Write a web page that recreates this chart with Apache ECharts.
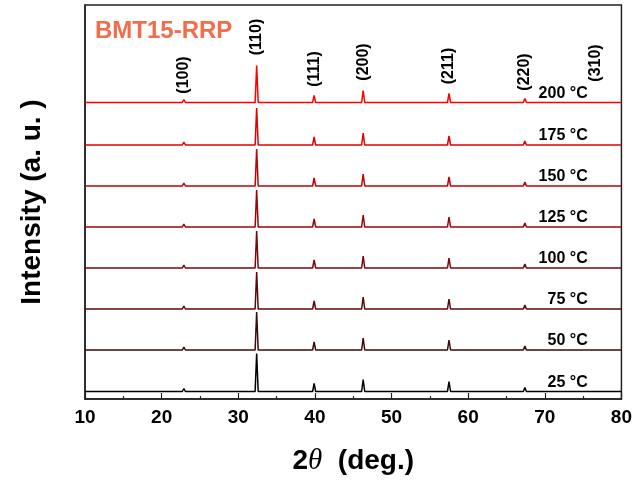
<!DOCTYPE html>
<html>
<head>
<meta charset="utf-8">
<script src="https://cdn.jsdelivr.net/npm/echarts@6/dist/echarts.min.js"></script>
<style>html,body{margin:0;padding:0;background:#fff}#c{width:635px;height:486px}</style>
</head>
<body>
<div id="c"></div>
<script>
// 2θ sample positions (deg.)
const twoTheta = [10, 22.7, 22.9, 23.1, 32.2, 32.4, 32.6, 39.7, 39.9, 40.1, 46.1, 46.3, 46.5, 57.3, 57.5, 57.7, 67.2, 67.4, 67.6, 76.4, 76.6, 76.8, 80];
// temperatures
const temperatures = ['25 °C', '50 °C', '75 °C', '100 °C', '125 °C', '150 °C', '175 °C', '200 °C'];
// vertical offsets of each pattern (a.u.)
const offsets = [7.5, 49, 90, 131, 172, 213, 254, 296.5];
// intensities (a.u.) above each baseline
const I25  = [0,0,3,0,0,38,0,0,8,0,0,12,0,0,10,0,0,4,0,0,2,0,0];
const I50  = [0,0,3,0,0,38,0,0,8,0,0,12,0,0,10,0,0,4,0,0,2,0,0];
const I75  = [0,0,3,0,0,37,0,0,8,0,0,12,0,0,10,0,0,4,0,0,2,0,0];
const I100 = [0,0,3,0,0,37,0,0,8,0,0,12,0,0,10,0,0,4,0,0,2,0,0];
const I125 = [0,0,3,0,0,37,0,0,8,0,0,12,0,0,10,0,0,4,0,0,2,0,0];
const I150 = [0,0,3,0,0,37,0,0,8,0,0,12,0,0,9,0,0,4,0,0,2,0,0];
const I175 = [0,0,3,0,0,37,0,0,8,0,0,12,0,0,9,0,0,4,0,0,2,0,0];
const I200 = [0,0,3,0,0,37,0,0,7,0,0,12,0,0,9,0,0,4,0,0,2,0,0];
const intensities = [I25, I50, I75, I100, I125, I150, I175, I200];
const colors = ['#000000', '#3a0c0c', '#5a0a0a', '#7a0808', '#980606', '#ba0404', '#de0202', '#ff0000'];
// peak labels
const hkl = ['(100)', '(110)', '(111)', '(200)', '(211)', '(220)', '(310)'];
const hklPos = [22.9, 32.4, 39.9, 46.3, 57.5, 67.4, 76.6];
const hklY = [324, 362, 330, 337, 333, 327, 336];
const tempLabelX = 75.6;
const tempLabelDy = 9;

const series = [];
intensities.forEach((arr, i) => {
  series.push({
    type: 'line', showSymbol: false, silent: true, animation: false,
    lineStyle: { color: colors[i], width: 1.5 },
    data: twoTheta.map((x, k) => [x, arr[k] + offsets[i]])
  });
});
series.push({
  type: 'scatter', symbolSize: 0, silent: true, animation: false,
  itemStyle: { opacity: 1 },
  data: hkl.map((t, i) => ({ value: [hklPos[i], hklY[i]], name: t })),
  label: { show: true, position: [0, 0], align: 'center', verticalAlign: 'middle', rotate: 90, formatter: p => p.name,
    fontFamily: 'Liberation Sans', fontWeight: 'bold', fontSize: 16, color: '#000', textBorderWidth: 0 }
});
series.push({
  type: 'scatter', symbolSize: 0, silent: true, animation: false,
  itemStyle: { opacity: 1 },
  data: temperatures.map((t, i) => ({ value: [tempLabelX, offsets[i] + tempLabelDy], name: t })),
  label: { show: true, position: 'left', distance: 0, formatter: p => p.name,
    fontFamily: 'Liberation Sans', fontWeight: 'bold', fontSize: 16, color: '#000' }
});

const chart = echarts.init(document.getElementById('c'));
chart.setOption({
  animation: false,
  title: { text: 'BMT15-RRP', left: 90, top: 14,
    textStyle: { color: '#f26d4b', fontSize: 24, fontWeight: 'bold', fontFamily: 'Liberation Sans' } },
  grid: { left: 85, right: 13, top: 5, bottom: 87, show: true, borderColor: '#222', borderWidth: 1.5, backgroundColor: 'transparent' },
  xAxis: {
    type: 'value', min: 10, max: 80, interval: 10,
    axisLine: { lineStyle: { color: '#222', width: 1.5 } },
    axisTick: { inside: true, length: 6, lineStyle: { color: '#222', width: 1.2 } },
    minorTick: { show: true, splitNumber: 2, length: 3, lineStyle: { color: '#222', width: 1.2 } },
    splitLine: { show: false },
    axisLabel: { color: '#000', fontSize: 19, fontWeight: 'bold', fontFamily: 'Liberation Sans', margin: 9 },
    name: '2{i|θ}  (deg.)', nameLocation: 'middle', nameGap: 48,
    nameTextStyle: { color: '#000', fontSize: 28, fontWeight: 'bold', fontFamily: 'Liberation Sans',
      rich: { i: { fontFamily: 'Liberation Serif', fontStyle: 'italic', fontSize: 29, fontWeight: 'normal', color: '#000' } } }
  },
  yAxis: {
    type: 'value', min: 0, max: 394,
    axisLine: { show: true, lineStyle: { color: '#222', width: 1.5 } },
    axisTick: { show: false }, axisLabel: { show: false }, splitLine: { show: false },
    name: 'Intensity (a. u. )', nameLocation: 'middle', nameGap: 39,
    nameTextStyle: { color: '#000', fontSize: 28, fontWeight: 'bold', fontFamily: 'Liberation Sans' }
  },
  series: series
});
</script>
</body>
</html>
